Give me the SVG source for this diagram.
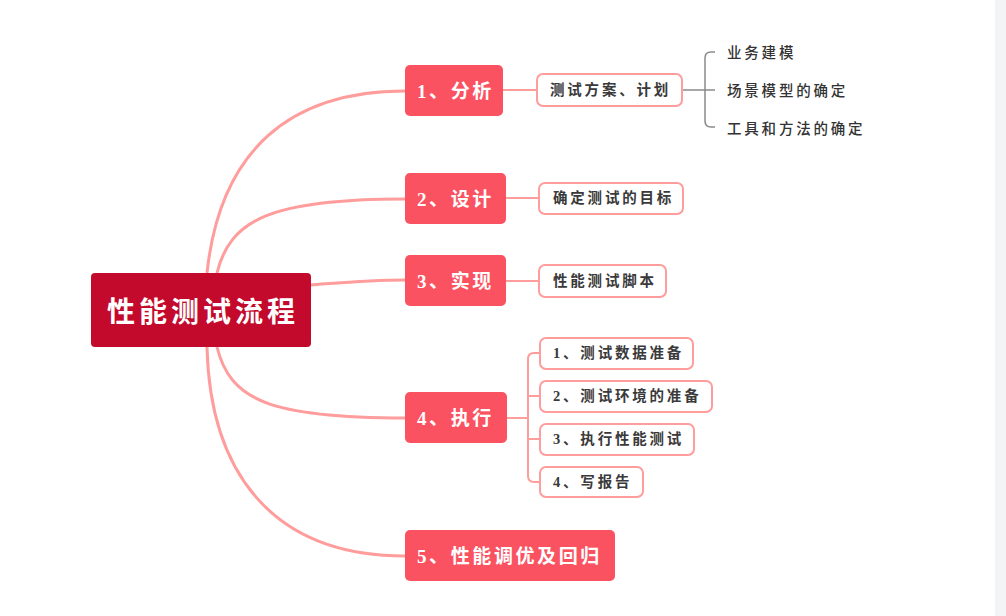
<svg xmlns="http://www.w3.org/2000/svg" width="1006" height="616" viewBox="0 0 1006 616">
<style>
.root{fill:#c30a2c}
.main{fill:#fa5260}
.child{fill:#ffffff;stroke:#ff9c9c;stroke-width:2}
.rt{font-family:"Noto Sans CJK SC",sans-serif;font-size:28px;font-weight:bold;fill:#ffffff;letter-spacing:4px;dominant-baseline:central}
.mt{font-family:"Liberation Serif","Noto Sans CJK SC",sans-serif;font-size:19px;font-weight:bold;fill:#ffffff;letter-spacing:2.6px;dominant-baseline:central}
.ct{font-family:"Liberation Serif","Noto Sans CJK SC",sans-serif;font-size:14.5px;font-weight:bold;fill:#3a3a3a;letter-spacing:2.8px;dominant-baseline:central}
.gt{font-family:"Noto Sans CJK SC",sans-serif;font-size:14.5px;font-weight:500;fill:#333333;letter-spacing:2.8px;dominant-baseline:central}
.pk{fill:none;stroke:#ff9c9c;stroke-width:3}
.pk2{fill:none;stroke:#ff9c9c;stroke-width:2}
.gr{fill:none;stroke:#8a8a8a;stroke-width:1.5}
</style>
<rect x="0" y="0" width="1006" height="616" fill="#ffffff"/>
<rect x="995" y="0" width="11" height="616" fill="#f3f4f6"/>
<g id="connectors">
<path class="pk" d="M207,273 C220,150 290,91 405,91"/>
<path class="pk" d="M217,273 C230,220 270,199 405,199"/>
<path class="pk" d="M311,285 C350,282 370,280 405,280"/>
<path class="pk" d="M217,347 C230,400 270,418 405,418"/>
<path class="pk" d="M207,347 C210,470 270,556 405,556"/>
<path class="pk2" d="M503,90 L537,90"/>
<path class="pk2" d="M506,198 L539,198"/>
<path class="pk2" d="M506,281 L539,281"/>
<path class="pk2" d="M507,418 L528,418 M540,353 L534,353 Q528,353 528,359 L528,476 Q528,482 534,482 L540,482 M528,396 L540,396 M528,439 L540,439"/>
<path class="gr" d="M682,90 L715,90 M715,52 L711,52 Q705,52 705,58 L705,121 Q705,127 711,127 L715,127"/>
</g>
<g id="root">
<rect class="root" x="91" y="273" width="220" height="74" rx="4"/>
<text class="rt" x="107" y="310">性能测试流程</text>
</g>
<g id="n1">
<rect class="main" x="405" y="65" width="98" height="51" rx="5"/>
<text class="mt" x="417" y="91">1、分析</text>
</g>
<g id="n2">
<rect class="main" x="405" y="173" width="101" height="51" rx="5"/>
<text class="mt" x="417" y="199">2、设计</text>
</g>
<g id="n3">
<rect class="main" x="405" y="255" width="101" height="51" rx="5"/>
<text class="mt" x="417" y="281">3、实现</text>
</g>
<g id="n4">
<rect class="main" x="405" y="392" width="102" height="51" rx="5"/>
<text class="mt" x="417" y="418">4、执行</text>
</g>
<g id="n5">
<rect class="main" x="405" y="530" width="210" height="51" rx="5"/>
<text class="mt" x="417" y="556">5、性能调优及回归</text>
</g>
<g id="c11">
<rect class="child" x="537" y="74" width="145" height="32" rx="6"/>
<text class="ct" x="550" y="90">测试方案、计划</text>
</g>
<g id="g1"><text class="gt" x="727" y="51">业务建模</text></g>
<g id="g2"><text class="gt" x="727" y="89">场景模型的确定</text></g>
<g id="g3"><text class="gt" x="727" y="127">工具和方法的确定</text></g>
<g id="c21">
<rect class="child" x="539" y="183" width="144" height="31" rx="6"/>
<text class="ct" x="553" y="198">确定测试的目标</text>
</g>
<g id="c31">
<rect class="child" x="539" y="265" width="127" height="32" rx="6"/>
<text class="ct" x="553" y="281">性能测试脚本</text>
</g>
<g id="c41">
<rect class="child" x="540" y="338" width="153" height="31" rx="6"/>
<text class="ct" x="553" y="353">1、测试数据准备</text>
</g>
<g id="c42">
<rect class="child" x="540" y="381" width="172" height="31" rx="6"/>
<text class="ct" x="553" y="396">2、测试环境的准备</text>
</g>
<g id="c43">
<rect class="child" x="540" y="424" width="154" height="31" rx="6"/>
<text class="ct" x="553" y="439">3、执行性能测试</text>
</g>
<g id="c44">
<rect class="child" x="540" y="467" width="103" height="30" rx="6"/>
<text class="ct" x="553" y="482">4、写报告</text>
</g>
</svg>
